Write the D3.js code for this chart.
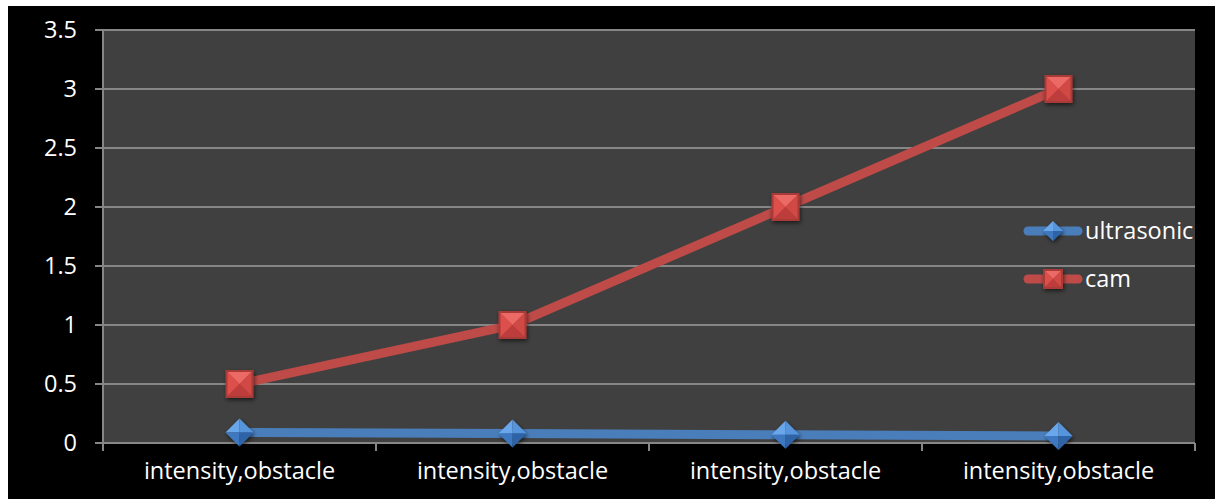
<!DOCTYPE html>
<html>
<head>
<meta charset="utf-8">
<script src="https://cdn.jsdelivr.net/npm/d3@7"></script>
<style>
  html, body { margin: 0; padding: 0; background: #ffffff; }
  svg { display: block; }
  text { font-family: "Open Sans", "Lato", sans-serif; fill: #ffffff; }
</style>
</head>
<body>
<svg id="chart" width="1215" height="499"></svg>
<script>
// Chart data
const categories = ["intensity,obstacle", "intensity,obstacle", "intensity,obstacle", "intensity,obstacle"];
const ultrasonic = [0.09, 0.08, 0.07, 0.06];
const cam = [0.5, 1, 2, 3];
const yTicks = [0, 0.5, 1, 1.5, 2, 2.5, 3, 3.5];
const seriesNames = ["ultrasonic", "cam"];

const W = 1215, H = 499;
const plot = { left: 103, right: 1195, top: 30, bottom: 443 };
const FONT = 23.5;

const svg = d3.select("#chart");

// dark frame behind everything
svg.append("rect").attr("x", 8).attr("y", 6).attr("width", W - 8).attr("height", H - 6).attr("fill", "#000000");

const x = d3.scaleBand().domain(d3.range(categories.length)).range([plot.left, plot.right]).padding(0);
const y = d3.scaleLinear().domain([0, 3.5]).range([plot.bottom, plot.top]);
const cx = i => x(i) + x.bandwidth() / 2;

// plot area
svg.append("rect")
  .attr("x", plot.left).attr("y", plot.top)
  .attr("width", plot.right - plot.left).attr("height", plot.bottom - plot.top)
  .attr("fill", "#404040");

// horizontal grid lines
svg.append("g").selectAll("line").data(yTicks).join("line")
  .attr("x1", plot.left - 8).attr("x2", plot.right)
  .attr("y1", d => y(d)).attr("y2", d => y(d))
  .attr("stroke", "#868686").attr("stroke-width", 2);

// y axis line
svg.append("line")
  .attr("x1", plot.left).attr("x2", plot.left)
  .attr("y1", plot.top).attr("y2", plot.bottom + 8)
  .attr("stroke", "#868686").attr("stroke-width", 2);

// y tick labels
svg.append("g").selectAll("text").data(yTicks).join("text")
  .attr("x", 77).attr("y", d => y(d))
  .attr("dy", "0.36em")
  .attr("text-anchor", "end")
  .attr("font-size", FONT)
  .text(d => d3.format("")(d));

// category boundary ticks
const bounds = d3.range(categories.length + 1).map(i => plot.left + i * x.bandwidth());
svg.append("g").selectAll("line").data(bounds).join("line")
  .attr("x1", d => d).attr("x2", d => d)
  .attr("y1", plot.bottom).attr("y2", plot.bottom + 8)
  .attr("stroke", "#868686").attr("stroke-width", 2);

// category labels
svg.append("g").selectAll("text").data(categories).join("text")
  .attr("x", (d, i) => cx(i)).attr("y", 479)
  .attr("text-anchor", "middle")
  .attr("font-size", FONT)
  .text(d => d);

// marker shading
const defs = svg.append("defs");
const shadow = defs.append("filter").attr("id", "shadow").attr("x", "-50%").attr("y", "-50%").attr("width", "200%").attr("height", "200%");
shadow.append("feDropShadow").attr("dx", 1).attr("dy", 2).attr("stdDeviation", 2).attr("flood-color", "#000").attr("flood-opacity", 0.6);

function squareMarker(g, s, pal) {
  const h = s / 2;
  const m = g.append("g").attr("filter", "url(#shadow)");
  m.append("rect").attr("x", -h).attr("y", -h).attr("width", s).attr("height", s).attr("fill", pal.edge);
  const k = h - 2;
  const tri = (pts, c) => m.append("polygon").attr("points", pts.map(p => p.join(",")).join(" ")).attr("fill", c);
  tri([[-k, -k], [k, -k], [0, 0]], pal.top);
  tri([[-k, -k], [-k, k], [0, 0]], pal.left);
  tri([[k, -k], [k, k], [0, 0]], pal.right);
  tri([[-k, k], [k, k], [0, 0]], pal.bottom);
}

function diamondMarker(g, s, pal) {
  const h = s / 2;
  const m = g.append("g").attr("filter", "url(#shadow)");
  const tri = (pts, c) => m.append("polygon").attr("points", pts.map(p => p.join(",")).join(" ")).attr("fill", c);
  tri([[-h, 0], [0, -h], [0, 0]], pal.top);
  tri([[0, -h], [h, 0], [0, 0]], pal.left);
  tri([[-h, 0], [0, h], [0, 0]], pal.right);
  tri([[h, 0], [0, h], [0, 0]], pal.bottom);
}

const redPal = { edge: "#a83a38", top: "#ec6a66", left: "#dc504c", right: "#d04844", bottom: "#bc3e3b" };
const bluePal = { top: "#6aa6ea", left: "#5694dc", right: "#3c78c0", bottom: "#2e64a8" };

const line = d3.line().x((d, i) => cx(i)).y(d => y(d));

// series lines
svg.append("path").datum(ultrasonic).attr("d", line)
  .attr("fill", "none").attr("stroke", "#4a7ebb").attr("stroke-width", 9).attr("stroke-linejoin", "round");
svg.append("path").datum(cam).attr("d", line)
  .attr("fill", "none").attr("stroke", "#be4b48").attr("stroke-width", 9).attr("stroke-linejoin", "round");

// series markers
svg.append("g").selectAll("g").data(ultrasonic).join("g")
  .attr("transform", (d, i) => `translate(${cx(i)},${y(d)})`)
  .each(function () { diamondMarker(d3.select(this), 28, bluePal); });
svg.append("g").selectAll("g").data(cam).join("g")
  .attr("transform", (d, i) => `translate(${cx(i)},${y(d)})`)
  .each(function () { squareMarker(d3.select(this), 28, redPal); });

// legend
const legend = svg.append("g");
const legendRows = [
  { name: seriesNames[0], color: "#4a7ebb", y: 231, kind: "diamond" },
  { name: seriesNames[1], color: "#be4b48", y: 279, kind: "square" }
];
legendRows.forEach(r => {
  legend.append("line").attr("x1", 1028).attr("x2", 1078).attr("y1", r.y).attr("y2", r.y)
    .attr("stroke", r.color).attr("stroke-width", 9).attr("stroke-linecap", "round");
  const g = legend.append("g").attr("transform", `translate(1053,${r.y})`);
  if (r.kind === "diamond") diamondMarker(g, 20, bluePal); else squareMarker(g, 20, redPal);
  legend.append("text").attr("x", 1085).attr("y", r.y).attr("dy", "0.36em")
    .attr("font-size", FONT).text(r.name);
});
</script>
</body>
</html>
